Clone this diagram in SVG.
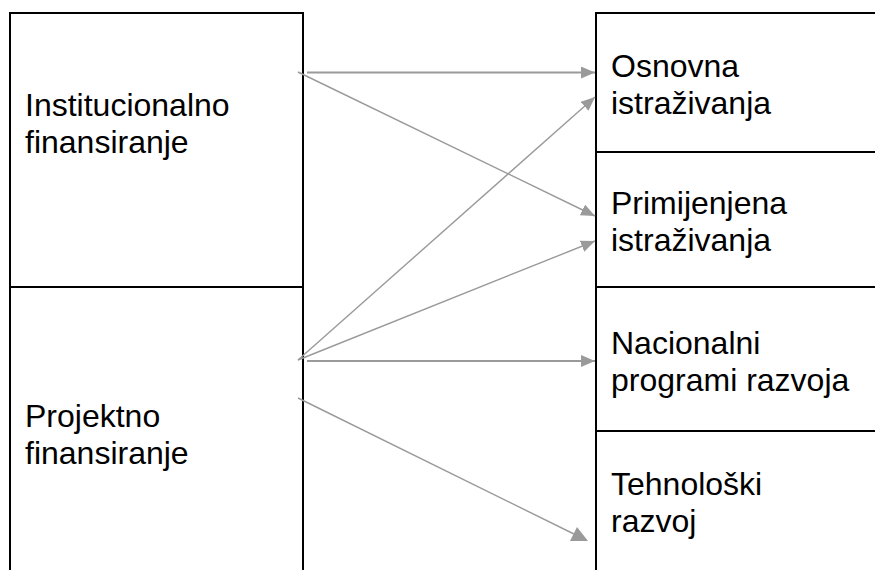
<svg xmlns="http://www.w3.org/2000/svg" width="875" height="570" viewBox="0 0 875 570">
<style>
.box{fill:#fff;stroke:#000;stroke-width:2}
.lbl{font-family:"Liberation Sans",Arial,sans-serif;font-size:32px;fill:#000}
.con{stroke:#9a9a9a;fill:none}
.thin{stroke-width:1.4}
.thick{stroke-width:2.2}
.head{fill:#9a9a9a}
</style>
<defs>
<marker id="ah" viewBox="0 0 14 12" refX="14" refY="6" markerWidth="14" markerHeight="12" markerUnits="userSpaceOnUse" orient="auto">
<path d="M0,0 L14,6 L0,12 z" class="head"/>
</marker>
</defs>
<rect width="875" height="570" fill="#fff"/>
<g id="node-institucionalno">
<rect class="box" x="10" y="13" width="293" height="274"/>
<text class="lbl"><tspan x="25" y="116">Institucionalno</tspan><tspan x="25" y="153">finansiranje</tspan></text>
</g>
<g id="node-projektno">
<rect class="box" x="10" y="287" width="293" height="300"/>
<text class="lbl"><tspan x="25" y="427">Projektno</tspan><tspan x="25" y="464">finansiranje</tspan></text>
</g>
<g id="node-osnovna">
<rect class="box" x="596" y="13" width="290" height="139"/>
<text class="lbl"><tspan x="611" y="77">Osnovna</tspan><tspan x="611" y="114">istraživanja</tspan></text>
</g>
<g id="node-primijenjena">
<rect class="box" x="596" y="152" width="290" height="135"/>
<text class="lbl"><tspan x="611" y="214">Primijenjena</tspan><tspan x="611" y="251">istraživanja</tspan></text>
</g>
<g id="node-nacionalni">
<rect class="box" x="596" y="287" width="290" height="144"/>
<text class="lbl"><tspan x="611" y="354">Nacionalni</tspan><tspan x="611" y="391">programi razvoja</tspan></text>
</g>
<g id="node-tehnoloski">
<rect class="box" x="596" y="431" width="290" height="160"/>
<text class="lbl"><tspan x="611" y="495">Tehnološki</tspan><tspan x="611" y="532">razvoj</tspan></text>
</g>
<g id="connectors">
<line class="con thick" x1="307" y1="72.5" x2="595" y2="72.5" marker-end="url(#ah)"/>
<line class="con thin" x1="298" y1="72" x2="595" y2="216" marker-end="url(#ah)"/>
<line class="con thin" x1="298" y1="360" x2="595" y2="97" marker-end="url(#ah)"/>
<line class="con thin" x1="298" y1="360" x2="595" y2="241" marker-end="url(#ah)"/>
<line class="con thick" x1="307" y1="361" x2="595" y2="361" marker-end="url(#ah)"/>
<line class="con thin" x1="298" y1="398" x2="578" y2="536"/>
<polygon class="head" points="577,527 588,541 570,541"/>
</g>
</svg>
